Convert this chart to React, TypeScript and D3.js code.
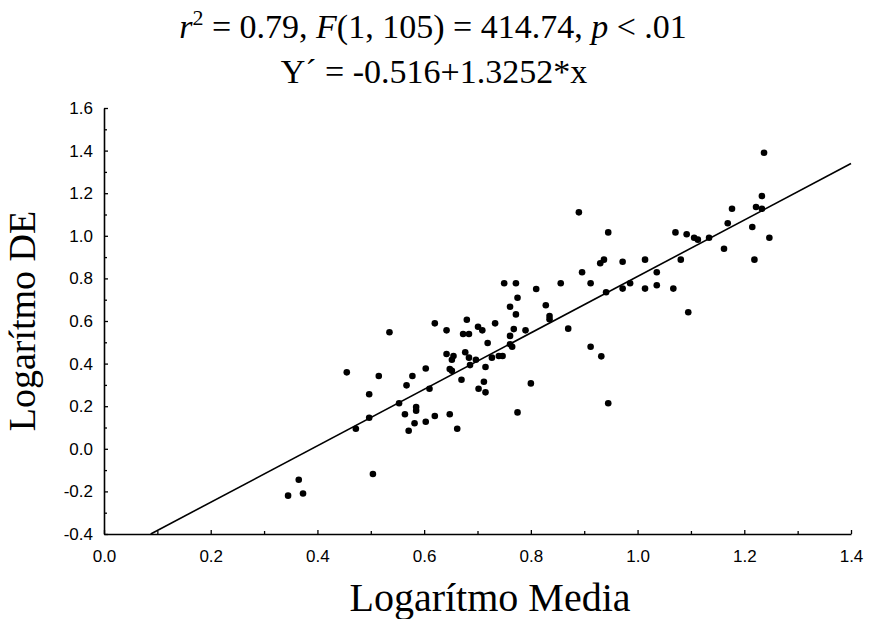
import React, { useRef, useEffect } from 'react';
import * as d3 from 'd3';

// log mean (x) and log SD (y) pairs
const logMedia = [
  0.345, 0.365, 0.373, 0.455, 0.472, 0.497, 0.497, 0.504, 0.515, 0.535,
  0.553, 0.564, 0.567, 0.571, 0.578, 0.582, 0.585, 0.585, 0.603, 0.603,
  0.610, 0.620, 0.620, 0.642, 0.642, 0.648, 0.648, 0.652, 0.652, 0.655,
  0.662, 0.670, 0.673, 0.677, 0.680, 0.684, 0.684, 0.686, 0.697, 0.701,
  0.702, 0.709, 0.712, 0.715, 0.715, 0.719, 0.727, 0.733, 0.740, 0.747,
  0.750, 0.761, 0.761, 0.761, 0.765, 0.768, 0.772, 0.772, 0.775, 0.775,
  0.790, 0.800, 0.810, 0.828, 0.835, 0.835, 0.856, 0.870, 0.890, 0.896,
  0.912, 0.912, 0.930, 0.932, 0.937, 0.941, 0.945, 0.945, 0.972, 0.972,
  0.986, 1.014, 1.014, 1.036, 1.036, 1.067, 1.071, 1.081, 1.092, 1.095,
  1.106, 1.113, 1.134, 1.162, 1.169, 1.177, 1.215, 1.219, 1.222, 1.233,
  1.233, 1.237, 1.247
];
const logDE = [
  -0.22, -0.145, -0.21, 0.359, 0.094, 0.256, 0.146, -0.118, 0.342, 0.547,
  0.214, 0.162, 0.298, 0.085, 0.342, 0.120, 0.196, 0.179, 0.377, 0.127,
  0.282, 0.589, 0.154, 0.556, 0.445, 0.375, 0.162, 0.418, 0.366, 0.436,
  0.094, 0.324, 0.539, 0.453, 0.606, 0.539, 0.428, 0.393, 0.418, 0.573,
  0.282, 0.556, 0.315, 0.384, 0.265, 0.497, 0.428, 0.589, 0.436, 0.436,
  0.777, 0.667, 0.530, 0.491, 0.479, 0.562, 0.777, 0.631, 0.709, 0.171,
  0.556, 0.307, 0.750, 0.674, 0.623, 0.608, 0.777, 0.564, 1.11, 0.829,
  0.777, 0.479, 0.871, 0.434, 0.888, 0.735, 1.016, 0.214, 0.878, 0.752,
  0.777, 0.888, 0.752, 0.829, 0.768, 0.752, 1.016, 0.888, 1.007, 0.641,
  0.991, 0.982, 0.991, 0.939, 1.059, 1.127, 1.041, 0.888, 1.135, 1.187,
  1.127, 1.39, 0.991
];

const xTicks = [0, 0.2, 0.4, 0.6, 0.8, 1.0, 1.2, 1.4];
const xMinor = [0.1, 0.3, 0.5, 0.7, 0.9, 1.1, 1.3];
const yTicks = [-0.4, -0.2, 0, 0.2, 0.4, 0.6, 0.8, 1.0, 1.2, 1.4, 1.6];
const yMinor = [-0.3, -0.1, 0.1, 0.3, 0.5, 0.7, 0.9, 1.1, 1.3, 1.5];

const intercept = -0.516;
const slope = 1.3252;

const App = () => {
  const chartRef = useRef(null);

  useEffect(() => {
    const svg = d3.select(chartRef.current);
    svg.selectAll("*").remove();

    const width = 869;
    const height = 619;
    const margin = { top: 108, right: 18, bottom: 85, left: 104 };

    const x = d3.scaleLinear().domain([0, 1.4]).range([margin.left, width - margin.right]);
    const y = d3.scaleLinear().domain([-0.4, 1.6]).range([height - margin.bottom, margin.top]);
    const fmt = d => d.toFixed(1);

    // axes, ticks pointing inwards
    const xAxis = svg.append("g")
      .attr("transform", `translate(0,${height - margin.bottom})`)
      .call(d3.axisBottom(x).tickValues(xTicks).tickSize(-4).tickSizeOuter(0).tickPadding(16).tickFormat(fmt));
    svg.append("g")
      .attr("transform", `translate(0,${height - margin.bottom})`)
      .call(d3.axisBottom(x).tickValues(xMinor).tickSize(-3).tickSizeOuter(0).tickFormat(() => ""))
      .select(".domain").remove();

    const yAxis = svg.append("g")
      .attr("transform", `translate(${margin.left},0)`)
      .call(d3.axisLeft(y).tickValues(yTicks).tickSize(-4).tickSizeOuter(0).tickPadding(11).tickFormat(fmt));
    svg.append("g")
      .attr("transform", `translate(${margin.left},0)`)
      .call(d3.axisLeft(y).tickValues(yMinor).tickSize(-3).tickSizeOuter(0).tickFormat(() => ""))
      .select(".domain").remove();

    svg.selectAll(".domain").attr("stroke", "#000").attr("stroke-width", 1.6);
    svg.selectAll(".tick line").attr("stroke", "#000").attr("stroke-width", 1.3);
    [xAxis, yAxis].forEach(g => g.selectAll("text")
      .attr("fill", "#000")
      .style("font-family", "'Liberation Sans', Arial, sans-serif")
      .style("font-size", "17px"));

    // regression line
    const x0 = (-0.4 - intercept) / slope;
    const line = d3.line()
      .x(d => x(d))
      .y(d => y(intercept + slope * d));
    svg.append("path")
      .datum([x0, 1.4])
      .attr("fill", "none")
      .attr("stroke", "#000")
      .attr("stroke-width", 1.6)
      .attr("d", line);

    // points
    svg.append("g")
      .selectAll("circle")
      .data(logMedia.map((v, i) => [v, logDE[i]]))
      .join("circle")
      .attr("cx", d => x(d[0]))
      .attr("cy", d => y(d[1]))
      .attr("r", 3.3)
      .attr("fill", "#000");

    // titles
    const serif = "'Liberation Serif', 'Times New Roman', serif";
    const t1 = svg.append("text")
      .attr("x", 433)
      .attr("y", 38)
      .attr("text-anchor", "middle")
      .style("font-family", serif)
      .style("font-size", "34px");
    t1.append("tspan").style("font-style", "italic").text("r");
    t1.append("tspan").attr("dy", -13).style("font-size", "22px").text("2");
    t1.append("tspan").attr("dy", 13).text(" = 0.79, ");
    t1.append("tspan").style("font-style", "italic").text("F");
    t1.append("tspan").text("(1, 105) = 414.74, ");
    t1.append("tspan").style("font-style", "italic").text("p");
    t1.append("tspan").text(" < .01");

    svg.append("text")
      .attr("x", 434)
      .attr("y", 83)
      .attr("text-anchor", "middle")
      .style("font-family", serif)
      .style("font-size", "34px")
      .text("Y´ = -0.516+1.3252*x");

    svg.append("text")
      .attr("x", 490)
      .attr("y", 611)
      .attr("text-anchor", "middle")
      .style("font-family", serif)
      .style("font-size", "40px")
      .text("Logarítmo Media");

    svg.append("text")
      .attr("transform", `translate(35,${(y(1.6) + y(-0.4)) / 2}) rotate(-90)`)
      .attr("text-anchor", "middle")
      .style("font-family", serif)
      .style("font-size", "38px")
      .text("Logarítmo DE");
  }, []);

  return (
    <svg ref={chartRef} width="869" height="619"
      style={{ position: 'absolute', left: 0, top: 0, background: '#fff' }}></svg>
  );
};

export default App;
